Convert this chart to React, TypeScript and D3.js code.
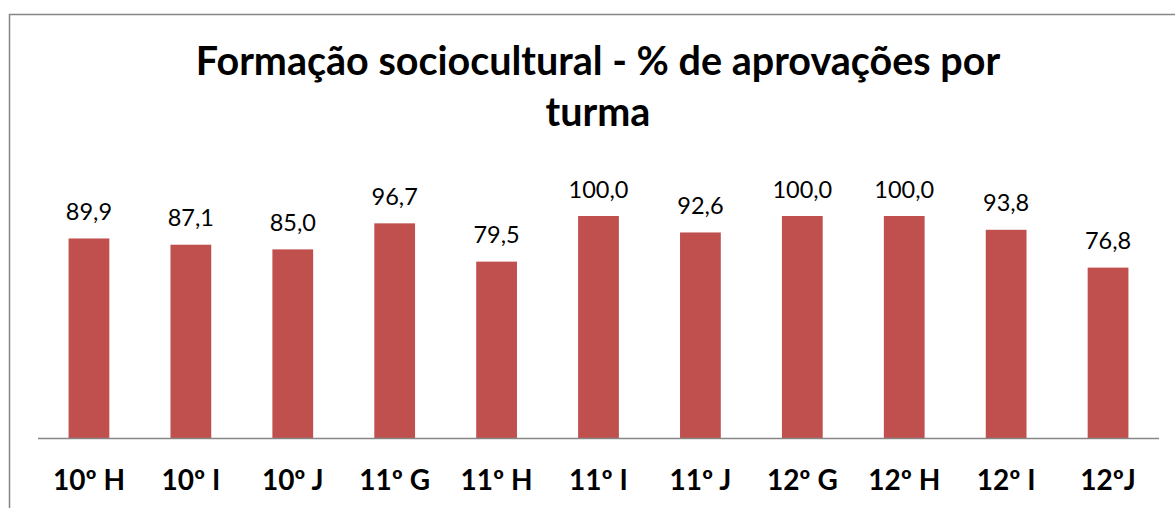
import React from "react";
import { scaleBand, scaleLinear } from "d3";

const categories = ["10º H", "10º I", "10º J", "11º G", "11º H", "11º I", "11º J", "12º G", "12º H", "12º I", "12ºJ"];
const values = [89.9, 87.1, 85.0, 96.7, 79.5, 100.0, 92.6, 100.0, 100.0, 93.8, 76.8];
const titleLines = ["Formação sociocultural - % de aprovações por", "turma"];

const W = 1175;
const H = 508;
const font = "Lato, 'Open Sans', sans-serif";

const App = () => {
  const x = scaleBand<string>()
    .domain(categories)
    .range([38, 1159])
    .paddingInner(0.6)
    .paddingOuter(0.3);
  const y = scaleLinear().domain([0, 120]).range([438.5, 171.5]);
  const fmt = (v: number) => v.toFixed(1).replace(".", ",");

  return (
    <svg width={W} height={H} style={{ position: "absolute", left: 0, top: 0, background: "#fff" }}>
      <rect x={9.5} y={14.5} width={1300} height={700} fill="#fff" stroke="#868686" strokeWidth={1.5} />
      <g fontFamily={font} fontWeight="bold" fontSize={39.5} textAnchor="middle" fill="#000">
        {titleLines.map((t, i) => (
          <text key={i} x={598} y={75 + i * 51}>{t}</text>
        ))}
      </g>
      {categories.map((c, i) => (
        <rect key={c} x={x(c)} y={y(values[i])} width={x.bandwidth()} height={y(0) - y(values[i])} fill="#C0504D" />
      ))}
      <g fontFamily={font} fontSize={23.5} textAnchor="middle" fill="#000">
        {categories.map((c, i) => (
          <text key={c} x={(x(c) ?? 0) + x.bandwidth() / 2} y={y(values[i]) - 18.5}>{fmt(values[i])}</text>
        ))}
      </g>
      <line x1={38} x2={1159} y1={y(0)} y2={y(0)} stroke="#868686" strokeWidth={1.5} />
      <g fontFamily={font} fontWeight="bold" fontSize={28} textAnchor="middle" fill="#000">
        {categories.map((c) => (
          <text key={c} x={(x(c) ?? 0) + x.bandwidth() / 2} y={490}>{c}</text>
        ))}
      </g>
    </svg>
  );
};

export default App;
